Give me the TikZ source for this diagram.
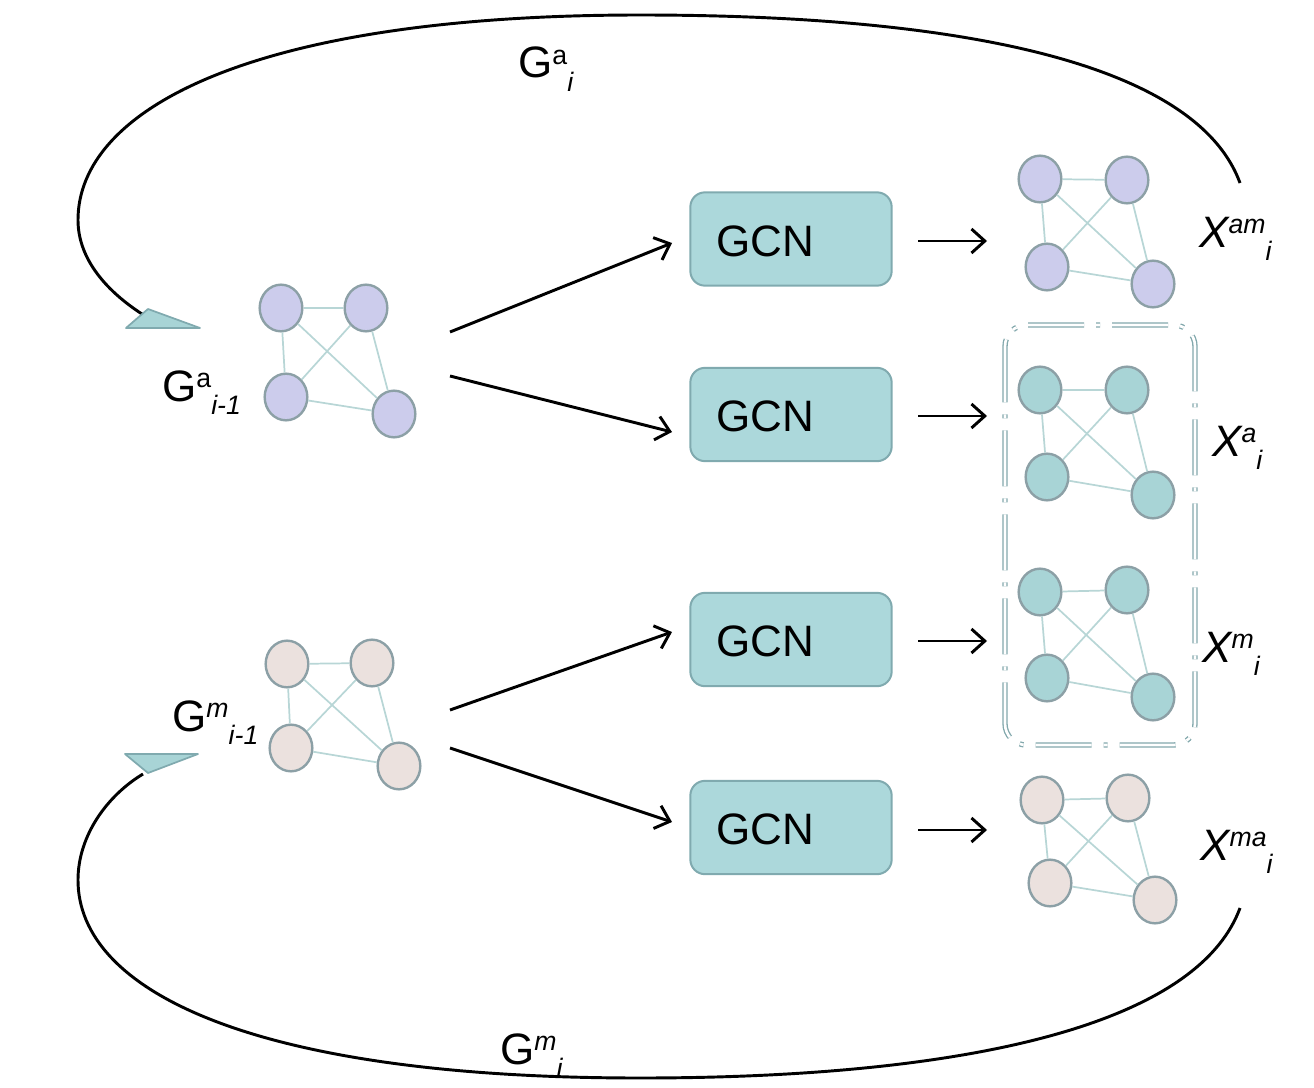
\documentclass[tikz,border=0pt]{standalone}
\usepackage{fontspec}
\setmainfont{Liberation Sans}
\usetikzlibrary{shapes.geometric,arrows.meta}
\definecolor{lav}{RGB}{204,204,236}
\definecolor{pnk}{RGB}{235,225,222}
\definecolor{tealn}{RGB}{168,212,214}
\definecolor{nstroke}{RGB}{140,160,166}
\definecolor{edgec}{RGB}{184,214,214}
\definecolor{gcnfill}{RGB}{172,216,219}
\definecolor{gcnstroke}{RGB}{128,170,175}
\definecolor{boxc}{RGB}{130,168,172}
\newcommand\mylbl[4]{#1\raisebox{0.3em}{\fontsize{20}{22}\selectfont #2}\raisebox{-0.3em}{\fontsize{20}{22}\selectfont\itshape #3}}
\newcommand\kfour[6]{%
 \node[gnode,#2] (#1-1) at (#3) {};
 \node[gnode,#2] (#1-2) at (#4) {};
 \node[gnode,#2] (#1-3) at (#5) {};
 \node[gnode,#2] (#1-4) at (#6) {};
 \foreach \a/\b in {1/2,1/3,1/4,2/3,2/4,3/4} \draw[gedge] (#1-\a) -- (#1-\b);
}
\begin{document}
\begin{tikzpicture}[x=0.75pt,y=-0.75pt,
  gnode/.style={ellipse,draw=nstroke,line width=1.8pt,minimum width=32pt,minimum height=35pt,inner sep=0pt},
  lavn/.style={fill=lav},
  pnkn/.style={fill=pnk},
  teln/.style={fill=tealn},
  gedge/.style={draw=edgec,line width=1.3pt},
  gcnbox/.style={draw=gcnstroke,fill=gcnfill,line width=1.5pt,rounded corners=11pt,minimum width=151pt,minimum height=70pt,inner sep=0pt},
  gcntext/.style={font=\fontsize{33}{38}\selectfont,inner sep=0pt},
  flow/.style={line width=2.2pt,-{Straight Barb[length=10pt,width=18pt,line width=2.2pt]}},
  loopline/.style={line width=2.2pt,black},
  tiptri/.style={draw=gcnstroke,fill=tealn,line width=1.3pt,line join=round},
  lbl/.style={font=\fontsize{33}{36}\selectfont,inner sep=0pt,anchor=base west},
  dashbox/.style={draw=boxc,line width=1pt,double=white,double distance=2pt,rounded corners=16pt,dash pattern=on 42pt off 9pt on 3pt off 9pt}
]
\useasboundingbox (0,0) rectangle (1314,1088);

% graphs
\kfour{ga}{lavn}{281,308}{366,308}{286,397}{394,414}
\kfour{gm}{pnkn}{287,664}{372,663}{291,748}{399,766}
\kfour{xam}{lavn}{1040,179}{1127,180}{1047,267}{1153,284}
\kfour{xa}{teln}{1040,390}{1127,390}{1047,477}{1153,495}
\kfour{xm}{teln}{1040,592}{1127,590}{1047,678}{1153,697}
\kfour{xma}{pnkn}{1042,800}{1128,798}{1050,883}{1155,900}

% GCN boxes
\node[gcnbox] (g1) at (791,239) {};
\node[gcnbox] (g2) at (791,414.5) {};
\node[gcnbox] (g3) at (791,639.5) {};
\node[gcnbox] (g4) at (791,827.5) {};
\node[gcntext] (t1) at (765,241) {GCN};
\node[gcntext] (t2) at (765,416.5) {GCN};
\node[gcntext] (t3) at (765,641.5) {GCN};
\node[gcntext] (t4) at (765,829.5) {GCN};

% arrow coordinates
\coordinate (s1) at (450,332); \coordinate (e1) at (672,243);
\coordinate (s2) at (450,376); \coordinate (e2) at (672,432);
\coordinate (s3) at (450,710); \coordinate (e3) at (672,632);
\coordinate (s4) at (450,748); \coordinate (e4) at (672,822);
\draw[flow] (s1) -- (e1);
\draw[flow] (s2) -- (e2);
\draw[flow] (s3) -- (e3);
\draw[flow] (s4) -- (e4);

\coordinate (o1) at (918,241); \coordinate (f1) at (987,241);
\coordinate (o2) at (918,416); \coordinate (f2) at (987,416);
\coordinate (o3) at (918,641); \coordinate (f3) at (987,641);
\coordinate (o4) at (918,830); \coordinate (f4) at (987,830);
\draw[flow] (o1) -- (f1);
\draw[flow] (o2) -- (f2);
\draw[flow] (o3) -- (f3);
\draw[flow] (o4) -- (f4);

% dash-dot double box
\draw[dashbox] (1005,325) rectangle (1195,745);

% loop curves
\coordinate (ta) at (1240,183);
\coordinate (tb) at (142,314);
\draw[loopline] (ta) .. controls (1195,60) and (950,15) .. (640,15)
  .. controls (250,15) and (78,110) .. (78,220)
  .. controls (78,260) and (108,292) .. (tb);
\draw[tiptri] (126,328) -- (148,309) -- (200,328) -- cycle;

\coordinate (ba) at (1240,908);
\coordinate (bb) at (143,774);
\draw[loopline] (ba) .. controls (1195,1030) and (950,1078) .. (640,1078)
  .. controls (250,1078) and (78,990) .. (78,880)
  .. controls (78,835) and (108,795) .. (bb);
\draw[tiptri] (125,754) -- (198,754) -- (148,773) -- cycle;

% labels
\node[lbl] (lga) at (518,78) {\mylbl{G}{a}{i}{}};
\node[lbl] (lgai) at (162,401) {\mylbl{G}{a}{i-1}{}};
\node[lbl] (lgmi) at (172,731) {\mylbl{G}{\itshape m}{i-1}{}};
\node[lbl] (lgm) at (500,1064) {\mylbl{G}{\itshape m}{i}{}};
\node[lbl] (lxam) at (1199,247) {\mylbl{\itshape X}{\itshape am}{i}{}};
\node[lbl] (lxa) at (1212,456) {\mylbl{\itshape X}{a}{i}{}};
\node[lbl] (lxm) at (1202,662) {\mylbl{\itshape X}{\itshape m}{i}{}};
\node[lbl] (lxma) at (1200,860) {\mylbl{\itshape X}{\itshape ma}{i}{}};
\end{tikzpicture}
\end{document}
